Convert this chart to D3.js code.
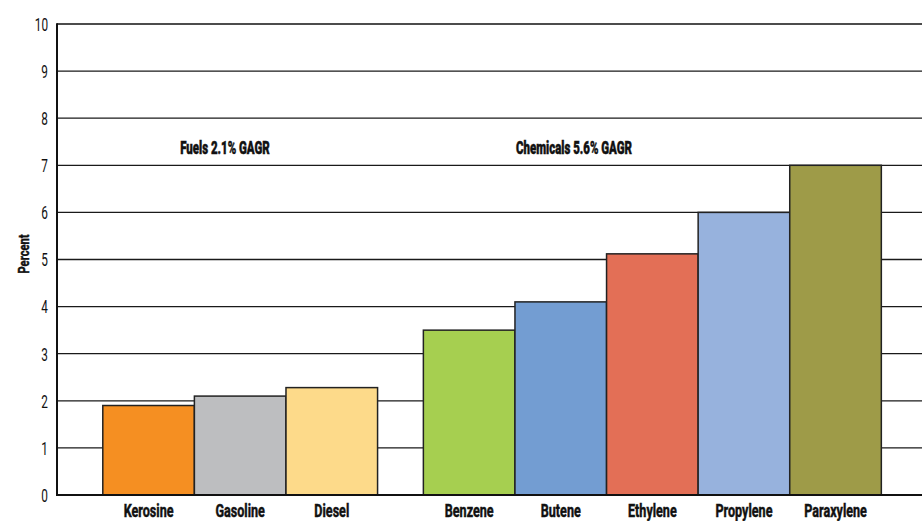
<!DOCTYPE html>
<html>
<head>
<meta charset="utf-8">
<script src="https://cdn.jsdelivr.net/npm/d3@7"></script>
<style>
  html, body { margin: 0; padding: 0; background: #fff; }
  svg { display: block; }
  text { font-family: Roboto, "Liberation Sans", Arial, sans-serif; fill: #111; }
  text.heavy { stroke: #111; stroke-width: 0.5; }
</style>
</head>
<body>
<svg id="chart" width="922" height="521"></svg>
<script>
// Growth rates by product (percent)
const fuels = ["Kerosine", "Gasoline", "Diesel"];
const fuelValues = [1.9, 2.1, 2.28];
const chemicals = ["Benzene", "Butene", "Ethylene", "Propylene", "Paraxylene"];
const chemicalValues = [3.5, 4.1, 5.12, 6.0, 7.0];
const fuelColors = ["#F58F22", "#BDBEC0", "#FDDA8A"];
const chemicalColors = ["#A6CF50", "#739DD2", "#E36F56", "#97B2DD", "#9E9B48"];
const yTicks = [0, 1, 2, 3, 4, 5, 6, 7, 8, 9, 10];
const groupLabels = ["Fuels 2.1% GAGR", "Chemicals 5.6% GAGR"];
const yTitle = "Percent";

const svg = d3.select("#chart");
const plotLeft = 57, plotRight = 922, plotTop = 24, plotBottom = 495;

// Bars sit in unit-wide slots; a half-slot gap separates the two groups
const bars = [
  ...fuels.map((name, i) => ({ name, value: fuelValues[i], color: fuelColors[i], slot: 0.5 + i })),
  ...chemicals.map((name, i) => ({ name, value: chemicalValues[i], color: chemicalColors[i], slot: 4 + i }))
];

const x = d3.scaleLinear().domain([0, 9.444]).range([plotLeft, plotRight]);
const y = d3.scaleLinear().domain([0, 10]).range([plotBottom, plotTop]);

// condensed text helper
function ctext(g, tx, ty, str, opts) {
  return g.append("g")
    .attr("transform", `translate(${tx},${ty})${opts.rotate ? ` rotate(${opts.rotate})` : ""} scale(${opts.sx},1)`)
    .append("text")
    .attr("class", opts.heavy ? "heavy" : null)
    .attr("text-anchor", opts.anchor || "middle")
    .attr("font-size", opts.size)
    .attr("font-weight", opts.weight || 400)
    .text(str);
}

// gridlines
svg.append("g")
  .selectAll("line")
  .data(yTicks.filter(d => d > 0 && d < 10))
  .join("line")
  .attr("x1", plotLeft).attr("x2", plotRight)
  .attr("y1", d => y(d)).attr("y2", d => y(d))
  .attr("stroke", "#1a1a1a").attr("stroke-width", 1.3);

// bars
svg.append("g")
  .selectAll("rect")
  .data(bars)
  .join("rect")
  .attr("x", d => x(d.slot))
  .attr("width", d => x(d.slot + 1) - x(d.slot))
  .attr("y", d => y(d.value))
  .attr("height", d => y(0) - y(d.value))
  .attr("fill", d => d.color)
  .attr("stroke", "#222")
  .attr("stroke-width", 1.5);

// frame: top line, left axis, baseline
svg.append("line").attr("x1", plotLeft).attr("x2", plotRight).attr("y1", y(10)).attr("y2", y(10))
  .attr("stroke", "#111").attr("stroke-width", 1.6);
svg.append("line").attr("x1", plotLeft).attr("x2", plotRight).attr("y1", y(0)).attr("y2", y(0))
  .attr("stroke", "#111").attr("stroke-width", 2);
svg.append("line").attr("x1", plotLeft).attr("x2", plotLeft).attr("y1", y(10) - 0.8).attr("y2", y(0) + 1)
  .attr("stroke", "#111").attr("stroke-width", 2);

// y tick labels
const yl = svg.append("g");
yTicks.forEach(v => ctext(yl, plotLeft - 9, y(v) + 6.8, String(v), { sx: 0.62, size: 19, anchor: "end" }));

// y title
ctext(svg, 29, 254, yTitle, { sx: 0.72, size: 15.5, weight: 700, rotate: -90, heavy: true });

// category labels
const cl = svg.append("g");
bars.forEach(d => ctext(cl, x(d.slot + 0.5), 516.5, d.name, { sx: 0.7, size: 18, weight: 700, heavy: true }));

// group labels
ctext(svg, 225, 154, groupLabels[0], { sx: 0.62, size: 18.5, weight: 900, heavy: true });
ctext(svg, 574, 154, groupLabels[1], { sx: 0.62, size: 18.5, weight: 900, heavy: true });
</script>
</body>
</html>
